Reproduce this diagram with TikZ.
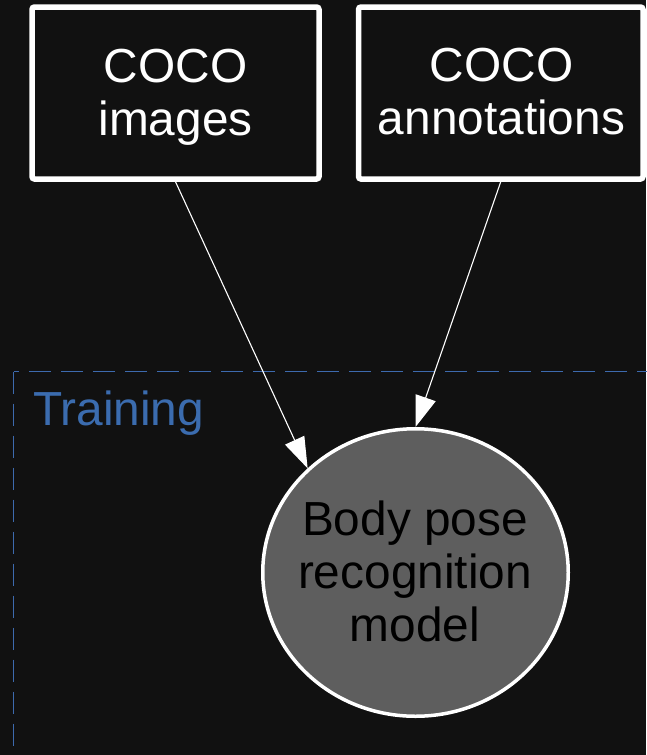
\documentclass[tikz,border=0pt]{standalone}
\usepackage{fontspec}
\setmainfont{Liberation Sans}
\usetikzlibrary{shapes.geometric,arrows.meta}
\definecolor{bg}{HTML}{111111}
\definecolor{clusterline}{HTML}{3D6AAE}
\definecolor{clustertext}{HTML}{3B6CAF}
\definecolor{modelfill}{HTML}{5E5E5E}
\tikzset{
  inbox/.style={draw=white, line width=5.5pt, fill=bg, rounded corners=2.5pt,
    minimum height=172pt, inner sep=0pt},
  bigtext/.style={font=\fontsize{47.8}{53}\selectfont, align=center, inner sep=0pt},
  modelnode/.style={ellipse, draw=white, line width=3.5pt, fill=modelfill,
    minimum width=305.5pt, minimum height=287.5pt, inner sep=0pt},
  flow/.style={draw=white, line width=1.1pt,
    -{Triangle[length=31pt,width=21pt,fill=white]}},
  cluster/.style={draw=clusterline, line width=1.3pt, dash pattern=on 22pt off 10pt}
}
\begin{document}
\begin{tikzpicture}[x=1pt,y=-1pt]
\useasboundingbox (0,0) rectangle (646,755);
\fill[bg] (0,0) rectangle (646,755);
% cluster
\draw[cluster] (13.5,371.7) rectangle (720,820);
\node[bigtext, text=clustertext, anchor=base west] (trainlbl) at (33,425) {Training};
% input boxes
\node[inbox, minimum width=287pt] (b1) at (175.5,93) {};
\node[bigtext, text=white] (t1) at (175.5,97.3) {COCO\\images};
\node[inbox, minimum width=284.5pt] (b2) at (500.75,93) {};
\node[bigtext, text=white] (t2) at (501.5,92) {COCO\\annotations};
% model
\node[modelnode] (m) at (415.5,572.5) {};
\node[bigtext, text=black] (mt) at (415,571.5) {Body pose\\recognition\\model};
% edges
\draw[flow] (b1.south) -- (m.136.4);
\draw[flow] (b2.south) -- (m.90);
\end{tikzpicture}
\end{document}
